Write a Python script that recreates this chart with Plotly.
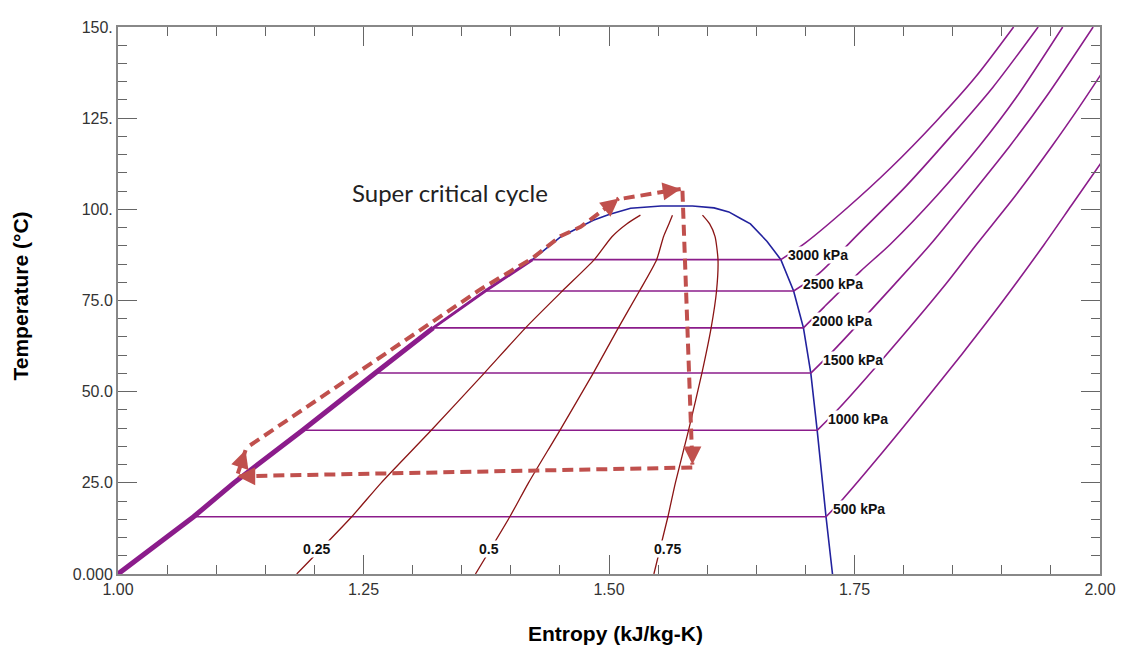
import plotly.graph_objects as go

# saturation dome (entropy kJ/kg-K, temperature C)
dome_s = [1.000, 1.077, 1.118, 1.188, 1.262, 1.321, 1.374, 1.422, 1.451, 1.484, 1.500, 1.522,
          1.553, 1.585, 1.607, 1.622, 1.634, 1.644, 1.661, 1.675, 1.688, 1.698, 1.7055, 1.712,
          1.721, 1.7276]
dome_t = [0, 15.7, 25.0, 39.4, 55.1, 67.5, 77.6, 86.2, 92.5, 97.0, 98.6, 100.3,
          100.9, 100.9, 100.4, 99.3, 97.5, 96.0, 91.2, 86.2, 77.6, 67.5, 55.1, 39.4,
          15.7, 0]

# compressed liquid part of the isobars (all lie on the liquid line)
liq_s = [1.000, 1.077, 1.118, 1.188, 1.262, 1.321]
liq_t = [0, 15.7, 25.0, 39.4, 55.1, 67.5]
liq_s2 = [1.321, 1.374, 1.422]
liq_t2 = [67.5, 77.6, 86.2]

# isobars: two-phase leg then superheated leg
p500_s = [1.077, 1.721, 1.738, 1.779, 1.820, 1.860, 1.899, 1.943, 1.971, 2.001]
p500_t = [15.7, 15.7, 20.5, 33.5, 47.0, 60.5, 74.1, 90.3, 101.1, 112.7]
p1000_s = [1.188, 1.712, 1.733, 1.775, 1.843, 1.874, 1.914, 1.951, 1.979, 2.001]
p1000_t = [39.4, 39.4, 45.1, 57.8, 79.5, 90.3, 103.8, 117.3, 128.1, 137.0]
p1500_s = [1.262, 1.7055, 1.729, 1.791, 1.827, 1.868, 1.908, 1.945, 1.993]
p1500_t = [55.1, 55.1, 61.4, 79.5, 90.3, 103.8, 117.3, 130.8, 150.0]
p2000_s = [1.321, 1.698, 1.719, 1.756, 1.786, 1.834, 1.877, 1.915, 1.962]
p2000_t = [67.5, 67.5, 73.2, 83.0, 90.3, 103.8, 117.3, 130.8, 150.0]
p2500_s = [1.374, 1.688, 1.713, 1.753, 1.803, 1.848, 1.891, 1.937]
p2500_t = [77.6, 77.6, 82.2, 93.0, 106.5, 120.0, 133.5, 150.0]
p3000_s = [1.422, 1.675, 1.700, 1.743, 1.787, 1.833, 1.873, 1.912]
p3000_t = [86.2, 86.2, 90.8, 100.5, 111.4, 124.1, 136.2, 150.0]

isobar_labels = ["500 kPa", "1000 kPa", "1500 kPa", "2000 kPa", "2500 kPa", "3000 kPa"]
label_s = [1.7269, 1.7218, 1.7174, 1.706, 1.697, 1.6815]
label_t = [17.8, 42.5, 58.7, 69.5, 79.5, 87.6]

# constant quality lines
q_t = [0, 15.7, 25.0, 39.4, 55.1, 67.5, 77.6, 86.2, 92.5, 96.0, 98.4]
q25_s = [1.182, 1.238, 1.268, 1.319, 1.373, 1.415, 1.4525, 1.485, 1.503, 1.518, 1.532]
q50_s = [1.364, 1.399, 1.418, 1.450, 1.484, 1.5095, 1.531, 1.5485, 1.5555, 1.561, 1.5646]
q75_s = [1.5457, 1.560, 1.5676, 1.581, 1.5946, 1.604, 1.6095, 1.611, 1.608, 1.6025, 1.5952]
q_labels = ["0.25", "0.5", "0.75"]
q_label_s = [1.2022, 1.3775, 1.5595]
q_label_t = [6.8, 6.9, 6.9]

# super critical cycle (dashed arrows)
leg1_s = [1.5848, 1.1214]
leg1_t = [29.2, 26.8]
leg2_s = [1.122, 1.1299]
leg2_t = [27.5, 34.0]
leg3_s = [1.1346, 1.2883, 1.3693, 1.422, 1.451, 1.4712, 1.5099]
leg3_t = [35.3, 63.3, 78.1, 86.6, 92.7, 95.2, 103.0]
leg4_s = [1.515, 1.573]
leg4_t = [103.0, 105.6]
leg5_s = [1.5748, 1.5849]
leg5_t = [105.1, 30.0]

PURPLE = "#8B1C8B"
BLUE = "#22229E"
DARKRED = "#8B1515"
CYCLE = "#C0504D"

fig = go.Figure()

fig.add_trace(go.Scatter(x=dome_s, y=dome_t, mode="lines", line=dict(color=BLUE, width=1.6)))
fig.add_trace(go.Scatter(x=liq_s, y=liq_t, mode="lines", line=dict(color=PURPLE, width=5)))
fig.add_trace(go.Scatter(x=liq_s2, y=liq_t2, mode="lines", line=dict(color=PURPLE, width=3)))

for xs, ys in [(p500_s, p500_t), (p1000_s, p1000_t), (p1500_s, p1500_t),
               (p2000_s, p2000_t), (p2500_s, p2500_t), (p3000_s, p3000_t)]:
    # flat two-phase leg, then smooth superheated leg
    fig.add_trace(go.Scatter(x=xs[:2], y=ys[:2], mode="lines", line=dict(color=PURPLE, width=1.6)))
    fig.add_trace(go.Scatter(x=xs[1:], y=ys[1:], mode="lines",
                             line=dict(color=PURPLE, width=1.6, shape="spline", smoothing=0.8)))

for xs in [q25_s, q50_s, q75_s]:
    fig.add_trace(go.Scatter(x=xs, y=q_t, mode="lines",
                             line=dict(color=DARKRED, width=1.3, shape="spline", smoothing=0.6)))

legs = [(leg1_s, leg1_t), (leg2_s, leg2_t), (leg3_s, leg3_t), (leg4_s, leg4_t), (leg5_s, leg5_t)]
for xs, ys in legs:
    fig.add_trace(go.Scatter(x=xs, y=ys, mode="lines",
                             line=dict(color=CYCLE, width=4, dash="11px,6px")))

# arrow heads at the end of each leg (tail offset in px)
tails = [(12, 0), (-4, 12), (-11, 9), (-14, 2), (0, -14)]
for (xs, ys), (ax, ay) in zip(legs, tails):
    fig.add_annotation(x=xs[-1], y=ys[-1], ax=ax, ay=ay, text="", showarrow=True,
                       arrowhead=2, arrowsize=1.2, arrowwidth=3, arrowcolor=CYCLE, standoff=0)

lbl_font = dict(family="Liberation Sans, Arial", size=14, color="#111")
for txt, xs, ys in zip(isobar_labels, label_s, label_t):
    fig.add_annotation(x=xs, y=ys, text="<b>%s</b>" % txt, showarrow=False, xanchor="left",
                       font=lbl_font, bgcolor="white", borderpad=0)
for txt, xs, ys in zip(q_labels, q_label_s, q_label_t):
    fig.add_annotation(x=xs, y=ys, text="<b>%s</b>" % txt, showarrow=False,
                       font=lbl_font, bgcolor="white", borderpad=0)

fig.add_annotation(x=1.3377, y=104.6, text="Super critical cycle", showarrow=False,
                   font=dict(family="Lato, Open Sans", size=24, color="#222"))

# axis titles
fig.add_annotation(x=0.5, y=0, xref="paper", yref="paper", xshift=6, yshift=-59,
                   xanchor="center", yanchor="middle",
                   text="<b>Entropy (kJ/kg-K)</b>", showarrow=False,
                   font=dict(family="Liberation Sans, Arial", size=21, color="#000"))
fig.add_annotation(x=0, y=0.5, xref="paper", yref="paper", xshift=-98, yshift=4,
                   xanchor="center", yanchor="middle", textangle=-90,
                   text="<b>Temperature (°C)</b>", showarrow=False,
                   font=dict(family="Liberation Sans, Arial", size=21, color="#000"))

axis_common = dict(showgrid=False, zeroline=False, showline=True, linecolor="#888",
                   linewidth=2, mirror="ticks", ticks="inside", ticklen=19,
                   tickcolor="#666", tickwidth=1,
                   tickfont=dict(family="Liberation Sans, Arial", size=16, color="#333"))

fig.update_xaxes(range=[1.0, 2.0], tickvals=[1.0, 1.25, 1.5, 1.75, 2.0],
                 ticktext=["1.00", "1.25", "1.50", "1.75", "2.00"],
                 minor=dict(ticks="inside", ticklen=9, dtick=0.05, tick0=1.0,
                            tickcolor="#666", showgrid=False),
                 **axis_common)
fig.update_yaxes(range=[0, 150], tickvals=[0, 25, 50, 75, 100, 125, 150],
                 ticktext=["0.000", "25.0", "50.0", "75.0", "100.", "125.", "150."],
                 minor=dict(ticks="inside", ticklen=9, dtick=5, tick0=0,
                            tickcolor="#666", showgrid=False),
                 **axis_common)

# the page body adds an 8px offset, margins compensate so the frame lands where it should
fig.update_layout(width=1126, height=648, showlegend=False,
                  margin=dict(l=110, r=34, t=11, b=82),
                  plot_bgcolor="white", paper_bgcolor="white")

fig.write_html("out.html")
